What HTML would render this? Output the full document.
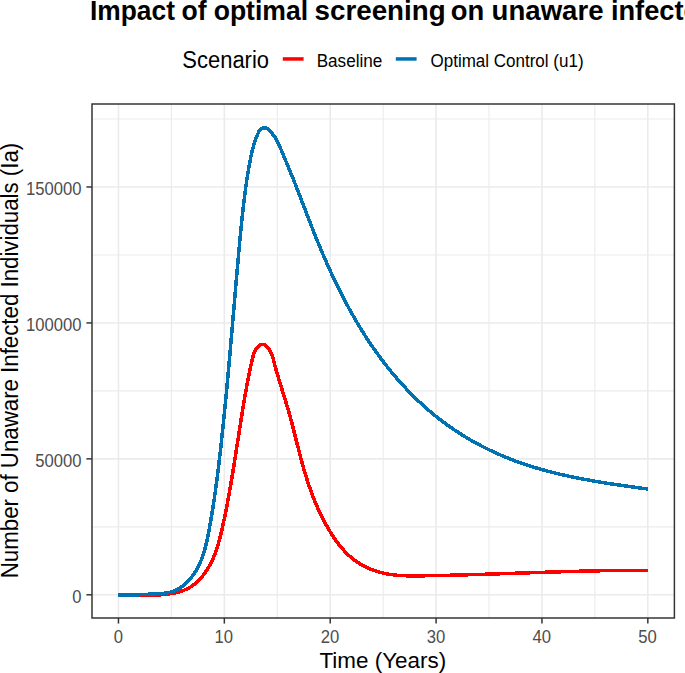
<!DOCTYPE html>
<html><head><meta charset="utf-8">
<style>
html,body{margin:0;padding:0;background:#fff;}
body{width:685px;height:673px;overflow:hidden;}
svg{display:block;}
text{font-family:"Liberation Sans",sans-serif;fill:#000;}
.ax{fill:#4D4D4D;}
</style></head><body>
<svg width="685" height="673" viewBox="0 0 685 673">
<rect width="685" height="673" fill="#fff"/>
<text x="90.04" y="19.9" font-size="27.5" font-weight="bold" textLength="84.88" lengthAdjust="spacingAndGlyphs">Impact</text>
<text x="181.56" y="19.9" font-size="27.5" font-weight="bold" textLength="25.09" lengthAdjust="spacingAndGlyphs">of</text>
<text x="213.66" y="19.9" font-size="27.5" font-weight="bold" textLength="94.42" lengthAdjust="spacingAndGlyphs">optimal</text>
<text x="314.62" y="19.9" font-size="27.5" font-weight="bold" textLength="131.03" lengthAdjust="spacingAndGlyphs">screening</text>
<text x="450.73" y="19.9" font-size="27.5" font-weight="bold" textLength="33.47" lengthAdjust="spacingAndGlyphs">on</text>
<text x="491.59" y="19.9" font-size="27.5" font-weight="bold" textLength="111.95" lengthAdjust="spacingAndGlyphs">unaware</text>
<text x="610.90" y="19.9" font-size="27.5" font-weight="bold" textLength="254.14" lengthAdjust="spacingAndGlyphs">infected individuals</text>
<text x="182.30" y="67.6" font-size="23.0" textLength="86.72" lengthAdjust="spacingAndGlyphs">Scenario</text>
<rect x="282.8" y="57.2" width="20.8" height="3.5" fill="#FF0000"/>
<text x="316.70" y="66.9" font-size="18.3" textLength="65.66" lengthAdjust="spacingAndGlyphs">Baseline</text>
<rect x="395.8" y="57.2" width="20.8" height="3.5" fill="#0072B2"/>
<text x="430.49" y="66.8" font-size="18.3" textLength="153.06" lengthAdjust="spacingAndGlyphs">Optimal Control (u1)</text>
<line x1="171.41" y1="104.0" x2="171.41" y2="618.0" stroke="#EBEBEB" stroke-width="1.1"/>
<line x1="277.27" y1="104.0" x2="277.27" y2="618.0" stroke="#EBEBEB" stroke-width="1.1"/>
<line x1="383.14" y1="104.0" x2="383.14" y2="618.0" stroke="#EBEBEB" stroke-width="1.1"/>
<line x1="489.01" y1="104.0" x2="489.01" y2="618.0" stroke="#EBEBEB" stroke-width="1.1"/>
<line x1="594.88" y1="104.0" x2="594.88" y2="618.0" stroke="#EBEBEB" stroke-width="1.1"/>
<line x1="92.0" y1="526.83" x2="674.4" y2="526.83" stroke="#EBEBEB" stroke-width="1.1"/>
<line x1="92.0" y1="390.90" x2="674.4" y2="390.90" stroke="#EBEBEB" stroke-width="1.1"/>
<line x1="92.0" y1="254.96" x2="674.4" y2="254.96" stroke="#EBEBEB" stroke-width="1.1"/>
<line x1="92.0" y1="119.03" x2="674.4" y2="119.03" stroke="#EBEBEB" stroke-width="1.1"/>
<line x1="118.47" y1="104.0" x2="118.47" y2="618.0" stroke="#EBEBEB" stroke-width="1.6"/>
<line x1="224.34" y1="104.0" x2="224.34" y2="618.0" stroke="#EBEBEB" stroke-width="1.6"/>
<line x1="330.21" y1="104.0" x2="330.21" y2="618.0" stroke="#EBEBEB" stroke-width="1.6"/>
<line x1="436.08" y1="104.0" x2="436.08" y2="618.0" stroke="#EBEBEB" stroke-width="1.6"/>
<line x1="541.95" y1="104.0" x2="541.95" y2="618.0" stroke="#EBEBEB" stroke-width="1.6"/>
<line x1="647.82" y1="104.0" x2="647.82" y2="618.0" stroke="#EBEBEB" stroke-width="1.6"/>
<line x1="92.0" y1="594.80" x2="674.4" y2="594.80" stroke="#EBEBEB" stroke-width="1.6"/>
<line x1="92.0" y1="458.86" x2="674.4" y2="458.86" stroke="#EBEBEB" stroke-width="1.6"/>
<line x1="92.0" y1="322.93" x2="674.4" y2="322.93" stroke="#EBEBEB" stroke-width="1.6"/>
<line x1="92.0" y1="186.99" x2="674.4" y2="186.99" stroke="#EBEBEB" stroke-width="1.6"/>
<path d="M118.47,595.00 L119.46,595.00 L120.44,595.00 L121.41,595.00 L122.37,595.00 L123.34,595.00 L124.31,595.00 L125.28,595.00 L126.25,595.00 L127.21,595.00 L128.18,595.00 L129.14,595.00 L130.11,595.00 L131.07,595.00 L132.04,594.95 L133.00,594.96 L133.96,594.98 L134.93,595.00 L135.89,595.01 L136.85,595.03 L137.81,595.05 L138.77,595.07 L139.74,595.08 L140.70,595.10 L141.66,595.11 L142.62,595.13 L143.58,595.14 L144.54,595.15 L145.50,595.16 L146.46,595.17 L147.43,595.17 L148.39,595.17 L149.35,595.17 L150.31,595.16 L151.27,595.15 L152.23,595.13 L153.20,595.11 L154.16,595.09 L155.12,595.06 L156.08,595.03 L157.05,594.99 L158.01,594.94 L158.98,594.89 L159.94,594.84 L160.91,594.77 L161.87,594.70 L162.84,594.62 L163.80,594.54 L164.77,594.45 L165.74,594.34 L166.71,594.24 L167.68,594.12 L168.65,593.99 L169.62,593.85 L170.58,593.71 L171.55,593.55 L172.52,593.38 L173.48,593.20 L174.44,593.01 L175.39,592.81 L176.35,592.59 L177.29,592.36 L178.23,592.12 L179.17,591.86 L180.10,591.58 L181.02,591.29 L181.94,590.98 L182.85,590.66 L183.75,590.32 L184.64,589.96 L185.52,589.58 L186.39,589.19 L187.25,588.77 L188.10,588.34 L188.94,587.88 L189.76,587.41 L190.58,586.91 L191.38,586.40 L192.17,585.87 L192.95,585.32 L193.71,584.75 L194.47,584.16 L195.21,583.56 L195.94,582.94 L196.66,582.31 L197.37,581.66 L198.06,580.99 L198.75,580.32 L199.42,579.63 L200.08,578.92 L200.73,578.21 L201.37,577.48 L202.00,576.74 L202.62,575.99 L203.22,575.23 L203.81,574.46 L204.40,573.68 L204.97,572.89 L205.53,572.09 L206.07,571.29 L206.61,570.48 L207.14,569.66 L207.65,568.84 L208.15,568.01 L208.65,567.17 L209.13,566.33 L209.60,565.49 L210.06,564.64 L210.51,563.79 L210.95,562.93 L211.38,562.07 L211.80,561.21 L212.21,560.34 L212.61,559.47 L213.00,558.59 L213.38,557.71 L213.76,556.83 L214.12,555.94 L214.48,555.05 L214.83,554.16 L215.17,553.27 L215.51,552.37 L215.83,551.46 L216.15,550.56 L216.47,549.65 L216.77,548.74 L217.07,547.83 L217.36,546.91 L217.65,546.00 L217.93,545.08 L218.21,544.15 L218.48,543.23 L218.74,542.30 L219.00,541.38 L219.26,540.45 L219.51,539.52 L219.75,538.58 L220.00,537.65 L220.24,536.71 L220.47,535.77 L220.70,534.84 L220.93,533.90 L221.15,532.96 L221.37,532.02 L221.59,531.07 L221.81,530.13 L222.03,529.19 L222.24,528.24 L222.45,527.30 L222.66,526.35 L222.87,525.41 L223.07,524.46 L223.28,523.52 L223.48,522.57 L223.69,521.63 L223.89,520.68 L224.09,519.73 L224.29,518.79 L224.48,517.84 L224.68,516.89 L224.88,515.94 L225.07,515.00 L225.26,514.05 L225.45,513.10 L225.64,512.15 L225.83,511.20 L226.02,510.26 L226.21,509.31 L226.40,508.36 L226.58,507.41 L226.77,506.46 L226.95,505.51 L227.13,504.56 L227.31,503.61 L227.49,502.66 L227.67,501.71 L227.85,500.76 L228.03,499.81 L228.20,498.86 L228.38,497.91 L228.55,496.96 L228.73,496.01 L228.90,495.05 L229.07,494.10 L229.24,493.15 L229.41,492.20 L229.58,491.25 L229.75,490.30 L229.92,489.34 L230.08,488.39 L230.25,487.44 L230.41,486.49 L230.58,485.53 L230.74,484.58 L230.91,483.63 L231.07,482.68 L231.23,481.72 L231.39,480.77 L231.55,479.82 L231.71,478.86 L231.87,477.91 L232.03,476.96 L232.19,476.00 L232.35,475.05 L232.51,474.10 L232.66,473.14 L232.82,472.19 L232.97,471.24 L233.13,470.28 L233.29,469.33 L233.44,468.37 L233.59,467.42 L233.75,466.47 L233.90,465.51 L234.05,464.56 L234.20,463.60 L234.36,462.65 L234.51,461.70 L234.66,460.74 L234.81,459.79 L234.96,458.83 L235.11,457.88 L235.26,456.92 L235.41,455.97 L235.56,455.02 L235.71,454.06 L235.86,453.11 L236.01,452.15 L236.16,451.20 L236.31,450.24 L236.45,449.29 L236.60,448.34 L236.75,447.38 L236.90,446.43 L237.05,445.47 L237.20,444.52 L237.34,443.57 L237.49,442.61 L237.64,441.66 L237.79,440.70 L237.93,439.75 L238.08,438.80 L238.23,437.84 L238.38,436.89 L238.53,435.93 L238.67,434.98 L238.82,434.03 L238.97,433.07 L239.12,432.12 L239.27,431.17 L239.42,430.21 L239.56,429.26 L239.71,428.31 L239.86,427.36 L240.01,426.40 L240.16,425.45 L240.31,424.50 L240.46,423.55 L240.61,422.59 L240.76,421.64 L240.91,420.69 L241.07,419.74 L241.22,418.78 L241.37,417.83 L241.52,416.88 L241.67,415.93 L241.83,414.98 L241.98,414.03 L242.13,413.08 L242.29,412.12 L242.44,411.17 L242.60,410.22 L242.75,409.27 L242.91,408.32 L243.07,407.37 L243.22,406.42 L243.38,405.47 L243.54,404.52 L243.70,403.57 L243.86,402.62 L244.02,401.67 L244.18,400.73 L244.34,399.78 L244.50,398.83 L244.66,397.88 L244.83,396.93 L244.99,395.98 L245.16,395.04 L245.32,394.09 L245.49,393.14 L245.66,392.19 L245.82,391.25 L245.99,390.30 L246.16,389.35 L246.33,388.41 L246.50,387.46 L246.67,386.52 L246.85,385.57 L247.02,384.63 L247.19,383.68 L247.37,382.74 L247.54,381.79 L247.72,380.85 L247.90,379.90 L248.08,378.96 L248.26,378.01 L248.44,377.07 L248.63,376.13 L248.82,375.18 L249.00,374.24 L249.19,373.29 L249.39,372.35 L249.58,371.40 L249.78,370.46 L249.98,369.51 L250.18,368.57 L250.39,367.62 L250.59,366.67 L250.80,365.73 L251.02,364.78 L251.24,363.83 L251.46,362.88 L251.68,361.93 L251.91,360.98 L252.14,360.03 L252.37,359.08 L252.61,358.13 L252.86,357.17 L253.11,356.22 L253.37,355.27 L253.66,354.33 L253.97,353.39 L254.32,352.47 L254.71,351.56 L255.14,350.67 L255.62,349.80 L256.16,348.95 L256.76,348.12 L257.42,347.33 L258.14,346.60 L258.89,345.95 L259.68,345.39 L260.49,344.94 L261.31,344.62 L262.14,344.46 L262.97,344.46 L263.78,344.63 L264.58,344.94 L265.36,345.39 L266.11,345.95 L266.83,346.59 L267.52,347.30 L268.16,348.06 L268.76,348.84 L269.31,349.65 L269.83,350.48 L270.30,351.34 L270.74,352.21 L271.15,353.10 L271.54,354.01 L271.89,354.93 L272.23,355.86 L272.54,356.80 L272.84,357.75 L273.12,358.71 L273.39,359.68 L273.65,360.64 L273.91,361.61 L274.16,362.58 L274.42,363.55 L274.67,364.51 L274.93,365.48 L275.19,366.44 L275.45,367.39 L275.72,368.35 L275.98,369.30 L276.25,370.25 L276.52,371.20 L276.79,372.14 L277.06,373.09 L277.33,374.03 L277.61,374.97 L277.88,375.90 L278.16,376.84 L278.44,377.77 L278.71,378.71 L278.99,379.64 L279.27,380.57 L279.55,381.49 L279.84,382.42 L280.12,383.34 L280.40,384.27 L280.68,385.19 L280.97,386.11 L281.25,387.03 L281.53,387.95 L281.82,388.87 L282.10,389.79 L282.39,390.71 L282.67,391.62 L282.95,392.54 L283.24,393.45 L283.52,394.37 L283.81,395.28 L284.09,396.20 L284.37,397.11 L284.65,398.03 L284.93,398.94 L285.21,399.85 L285.49,400.77 L285.77,401.68 L286.05,402.59 L286.33,403.51 L286.60,404.42 L286.88,405.34 L287.15,406.25 L287.42,407.17 L287.69,408.09 L287.96,409.00 L288.23,409.92 L288.50,410.84 L288.76,411.76 L289.02,412.68 L289.28,413.61 L289.54,414.53 L289.80,415.45 L290.06,416.38 L290.31,417.30 L290.56,418.23 L290.81,419.16 L291.06,420.09 L291.31,421.02 L291.56,421.95 L291.81,422.88 L292.05,423.81 L292.30,424.74 L292.54,425.68 L292.78,426.61 L293.02,427.54 L293.26,428.48 L293.50,429.41 L293.74,430.35 L293.98,431.29 L294.22,432.22 L294.46,433.16 L294.69,434.10 L294.93,435.04 L295.17,435.98 L295.40,436.91 L295.64,437.85 L295.87,438.79 L296.11,439.73 L296.35,440.67 L296.58,441.61 L296.82,442.55 L297.06,443.49 L297.29,444.43 L297.53,445.37 L297.77,446.31 L298.01,447.25 L298.24,448.19 L298.48,449.14 L298.72,450.08 L298.96,451.02 L299.21,451.96 L299.45,452.89 L299.69,453.83 L299.94,454.77 L300.18,455.71 L300.43,456.65 L300.67,457.59 L300.92,458.53 L301.17,459.46 L301.42,460.40 L301.68,461.34 L301.93,462.27 L302.19,463.21 L302.45,464.14 L302.70,465.08 L302.97,466.01 L303.23,466.95 L303.49,467.88 L303.76,468.81 L304.03,469.74 L304.30,470.67 L304.57,471.60 L304.85,472.53 L305.13,473.46 L305.40,474.38 L305.69,475.31 L305.97,476.23 L306.26,477.16 L306.55,478.08 L306.84,479.00 L307.13,479.92 L307.43,480.84 L307.73,481.76 L308.03,482.68 L308.34,483.60 L308.64,484.51 L308.95,485.43 L309.27,486.34 L309.58,487.25 L309.90,488.17 L310.22,489.08 L310.54,489.98 L310.87,490.89 L311.20,491.80 L311.53,492.70 L311.87,493.61 L312.21,494.51 L312.55,495.41 L312.90,496.31 L313.25,497.21 L313.60,498.10 L313.95,499.00 L314.31,499.89 L314.67,500.79 L315.04,501.68 L315.41,502.57 L315.78,503.46 L316.15,504.34 L316.53,505.23 L316.91,506.11 L317.30,506.99 L317.69,507.87 L318.08,508.75 L318.48,509.63 L318.88,510.50 L319.28,511.37 L319.69,512.25 L320.10,513.12 L320.51,513.98 L320.93,514.85 L321.36,515.71 L321.78,516.58 L322.21,517.44 L322.65,518.30 L323.09,519.15 L323.53,520.01 L323.98,520.86 L324.43,521.71 L324.89,522.56 L325.35,523.41 L325.81,524.25 L326.28,525.10 L326.75,525.94 L327.23,526.78 L327.71,527.61 L328.19,528.45 L328.68,529.28 L329.18,530.11 L329.68,530.94 L330.18,531.77 L330.69,532.59 L331.20,533.41 L331.72,534.23 L332.24,535.04 L332.77,535.86 L333.30,536.67 L333.84,537.47 L334.39,538.27 L334.94,539.07 L335.49,539.86 L336.05,540.65 L336.62,541.44 L337.19,542.22 L337.77,542.99 L338.35,543.76 L338.95,544.52 L339.54,545.28 L340.15,546.03 L340.76,546.78 L341.38,547.52 L342.00,548.25 L342.63,548.98 L343.27,549.70 L343.91,550.41 L344.57,551.12 L345.23,551.82 L345.90,552.51 L346.57,553.19 L347.25,553.86 L347.94,554.53 L348.64,555.19 L349.35,555.84 L350.06,556.47 L350.79,557.10 L351.52,557.73 L352.26,558.34 L353.01,558.94 L353.77,559.53 L354.53,560.11 L355.31,560.68 L356.09,561.24 L356.88,561.79 L357.69,562.33 L358.50,562.86 L359.32,563.37 L360.14,563.88 L360.98,564.38 L361.82,564.86 L362.67,565.33 L363.52,565.80 L364.38,566.25 L365.25,566.69 L366.13,567.12 L367.01,567.54 L367.89,567.94 L368.78,568.34 L369.68,568.73 L370.58,569.10 L371.48,569.46 L372.39,569.82 L373.31,570.16 L374.22,570.49 L375.14,570.81 L376.07,571.11 L376.99,571.41 L377.92,571.70 L378.85,571.97 L379.79,572.23 L380.72,572.48 L381.66,572.72 L382.60,572.95 L383.54,573.17 L384.48,573.38 L385.42,573.58 L386.36,573.76 L387.31,573.94 L388.25,574.11 L389.20,574.26 L390.15,574.41 L391.10,574.55 L392.05,574.68 L393.00,574.81 L393.95,574.92 L394.90,575.03 L395.86,575.13 L396.81,575.22 L397.77,575.30 L398.73,575.38 L399.68,575.45 L400.64,575.51 L401.60,575.57 L402.56,575.62 L403.52,575.67 L404.48,575.71 L405.45,575.75 L406.41,575.78 L407.37,575.80 L408.33,575.83 L409.30,575.84 L410.26,575.86 L411.23,575.87 L412.19,575.87 L413.16,575.88 L414.12,575.88 L415.09,575.88 L416.06,575.87 L417.02,575.87 L417.99,575.86 L418.96,575.85 L419.92,575.84 L420.89,575.82 L421.86,575.81 L422.82,575.79 L423.79,575.78 L424.76,575.76 L425.72,575.75 L426.69,575.73 L427.66,575.72 L428.63,575.70 L429.59,575.68 L430.56,575.67 L431.53,575.65 L432.49,575.63 L433.46,575.61 L434.43,575.59 L435.39,575.58 L436.36,575.56 L437.32,575.54 L438.29,575.52 L439.26,575.50 L440.22,575.48 L441.19,575.45 L442.16,575.43 L443.12,575.41 L444.09,575.39 L445.06,575.37 L446.02,575.35 L446.99,575.32 L447.95,575.30 L448.92,575.28 L449.89,575.25 L450.85,575.23 L451.82,575.21 L452.78,575.18 L453.75,575.16 L454.72,575.13 L455.68,575.11 L456.65,575.08 L457.61,575.06 L458.58,575.03 L459.55,575.01 L460.51,574.98 L461.48,574.95 L462.44,574.93 L463.41,574.90 L464.37,574.87 L465.34,574.85 L466.31,574.82 L467.27,574.79 L468.24,574.76 L469.20,574.74 L470.17,574.71 L471.13,574.68 L472.10,574.65 L473.07,574.62 L474.03,574.59 L475.00,574.56 L475.96,574.53 L476.93,574.50 L477.89,574.48 L478.86,574.45 L479.82,574.42 L480.79,574.39 L481.75,574.36 L482.72,574.33 L483.68,574.29 L484.65,574.26 L485.62,574.23 L486.58,574.20 L487.55,574.17 L488.51,574.14 L489.48,574.11 L490.44,574.08 L491.41,574.05 L492.37,574.02 L493.34,573.98 L494.30,573.95 L495.27,573.92 L496.23,573.89 L497.20,573.86 L498.16,573.82 L499.13,573.79 L500.09,573.76 L501.06,573.73 L502.02,573.70 L502.99,573.66 L503.95,573.63 L504.92,573.60 L505.88,573.57 L506.85,573.53 L507.81,573.50 L508.78,573.47 L509.74,573.43 L510.71,573.40 L511.67,573.37 L512.64,573.34 L513.60,573.30 L514.57,573.27 L515.53,573.24 L516.50,573.21 L517.46,573.17 L518.43,573.14 L519.39,573.11 L520.36,573.07 L521.32,573.04 L522.29,573.01 L523.25,572.98 L524.22,572.94 L525.18,572.91 L526.15,572.88 L527.11,572.85 L528.08,572.81 L529.04,572.78 L530.01,572.75 L530.97,572.72 L531.94,572.68 L532.90,572.65 L533.87,572.62 L534.83,572.59 L535.80,572.55 L536.76,572.52 L537.73,572.49 L538.69,572.46 L539.66,572.43 L540.62,572.39 L541.58,572.36 L542.55,572.33 L543.51,572.30 L544.48,572.27 L545.44,572.24 L546.41,572.21 L547.37,572.18 L548.34,572.14 L549.30,572.11 L550.27,572.08 L551.23,572.05 L552.20,572.02 L553.16,571.99 L554.13,571.96 L555.09,571.93 L556.06,571.90 L557.02,571.87 L557.99,571.84 L558.95,571.81 L559.92,571.78 L560.88,571.76 L561.85,571.73 L562.81,571.70 L563.78,571.67 L564.74,571.64 L565.71,571.61 L566.67,571.59 L567.64,571.56 L568.60,571.53 L569.57,571.50 L570.53,571.48 L571.50,571.45 L572.46,571.42 L573.43,571.40 L574.39,571.37 L575.36,571.34 L576.32,571.32 L577.29,571.29 L578.25,571.27 L579.22,571.24 L580.18,571.22 L581.15,571.19 L582.11,571.17 L583.08,571.15 L584.05,571.12 L585.01,571.10 L585.98,571.07 L586.94,571.05 L587.91,571.03 L588.87,571.01 L589.84,570.99 L590.80,570.96 L591.77,570.94 L592.73,570.92 L593.70,570.90 L594.66,570.88 L595.63,570.86 L596.60,570.84 L597.56,570.82 L598.53,570.80 L599.49,570.78 L600.46,570.76 L601.42,570.74 L602.39,570.73 L603.35,570.71 L604.32,570.69 L605.29,570.67 L606.25,570.66 L607.22,570.64 L608.18,570.62 L609.15,570.61 L610.11,570.59 L611.08,570.58 L612.05,570.56 L613.01,570.55 L613.98,570.54 L614.94,570.52 L615.91,570.51 L616.88,570.50 L617.84,570.49 L618.81,570.47 L619.77,570.46 L620.74,570.45 L621.71,570.44 L622.67,570.43 L623.64,570.42 L624.60,570.41 L625.57,570.40 L626.54,570.40 L627.50,570.39 L628.47,570.38 L629.44,570.37 L630.40,570.37 L631.37,570.36 L632.33,570.35 L633.30,570.35 L634.27,570.34 L635.23,570.34 L636.20,570.34 L637.17,570.33 L638.13,570.33 L639.10,570.33 L640.07,570.33 L641.03,570.32 L642.00,570.32 L642.97,570.32 L643.93,570.32 L644.90,570.32 L645.87,570.32 L646.83,570.33 L647.80,570.33" fill="none" stroke="#FF0000" stroke-width="3.5" stroke-linejoin="round" shape-rendering="crispEdges"/>
<path d="M118.47,595.00 L119.75,595.00 L121.00,595.00 L122.25,595.00 L123.49,595.00 L124.73,595.00 L125.96,595.00 L127.19,595.00 L128.41,595.00 L129.63,595.00 L130.85,595.00 L132.07,595.03 L133.28,595.00 L134.50,594.96 L135.71,594.92 L136.92,594.87 L138.13,594.82 L139.34,594.76 L140.55,594.70 L141.77,594.64 L142.98,594.58 L144.20,594.51 L145.42,594.44 L146.64,594.37 L147.86,594.30 L149.09,594.23 L150.32,594.16 L151.56,594.09 L152.80,594.02 L154.05,593.94 L155.30,593.87 L156.56,593.80 L157.82,593.73 L159.09,593.66 L160.36,593.58 L161.62,593.48 L162.89,593.37 L164.15,593.24 L165.40,593.09 L166.64,592.91 L167.87,592.70 L169.09,592.46 L170.29,592.17 L171.48,591.85 L172.65,591.48 L173.79,591.07 L174.92,590.61 L176.03,590.12 L177.12,589.58 L178.19,589.01 L179.23,588.40 L180.26,587.76 L181.27,587.08 L182.26,586.37 L183.23,585.64 L184.18,584.87 L185.11,584.07 L186.01,583.25 L186.90,582.41 L187.76,581.54 L188.61,580.65 L189.43,579.74 L190.24,578.81 L191.02,577.86 L191.78,576.90 L192.51,575.92 L193.23,574.93 L193.93,573.93 L194.60,572.92 L195.25,571.89 L195.89,570.86 L196.50,569.81 L197.09,568.76 L197.67,567.69 L198.23,566.62 L198.76,565.53 L199.29,564.44 L199.79,563.34 L200.28,562.23 L200.75,561.11 L201.21,559.99 L201.65,558.86 L202.08,557.72 L202.49,556.57 L202.89,555.42 L203.28,554.26 L203.65,553.10 L204.01,551.92 L204.36,550.75 L204.70,549.57 L205.03,548.38 L205.35,547.19 L205.66,546.00 L205.96,544.80 L206.25,543.59 L206.53,542.39 L206.81,541.18 L207.08,539.97 L207.34,538.75 L207.60,537.54 L207.85,536.32 L208.09,535.10 L208.33,533.88 L208.57,532.66 L208.80,531.43 L209.03,530.21 L209.26,528.98 L209.48,527.76 L209.70,526.54 L209.92,525.31 L210.14,524.09 L210.36,522.87 L210.57,521.64 L210.78,520.42 L210.99,519.20 L211.20,517.98 L211.41,516.76 L211.61,515.53 L211.81,514.31 L212.01,513.09 L212.21,511.87 L212.41,510.65 L212.61,509.43 L212.80,508.21 L212.99,506.98 L213.18,505.76 L213.37,504.54 L213.56,503.32 L213.74,502.10 L213.93,500.88 L214.11,499.66 L214.29,498.44 L214.47,497.22 L214.65,496.00 L214.83,494.78 L215.00,493.56 L215.17,492.34 L215.35,491.12 L215.52,489.90 L215.69,488.69 L215.85,487.47 L216.02,486.25 L216.19,485.03 L216.35,483.81 L216.51,482.59 L216.68,481.37 L216.84,480.15 L217.00,478.93 L217.15,477.71 L217.31,476.50 L217.47,475.28 L217.62,474.06 L217.77,472.84 L217.93,471.62 L218.08,470.40 L218.23,469.18 L218.38,467.96 L218.53,466.74 L218.67,465.53 L218.82,464.31 L218.97,463.09 L219.11,461.87 L219.25,460.65 L219.40,459.43 L219.54,458.21 L219.68,456.99 L219.82,455.77 L219.96,454.55 L220.10,453.33 L220.24,452.11 L220.38,450.90 L220.51,449.68 L220.65,448.46 L220.79,447.24 L220.92,446.02 L221.06,444.80 L221.19,443.58 L221.32,442.36 L221.46,441.14 L221.59,439.92 L221.72,438.70 L221.85,437.47 L221.98,436.25 L222.11,435.03 L222.24,433.81 L222.37,432.59 L222.50,431.37 L222.63,430.15 L222.76,428.93 L222.88,427.71 L223.01,426.48 L223.14,425.26 L223.26,424.04 L223.39,422.82 L223.52,421.60 L223.64,420.37 L223.76,419.15 L223.89,417.93 L224.01,416.71 L224.14,415.48 L224.26,414.26 L224.38,413.04 L224.50,411.82 L224.62,410.59 L224.75,409.37 L224.87,408.15 L224.99,406.92 L225.11,405.70 L225.23,404.48 L225.35,403.25 L225.46,402.03 L225.58,400.81 L225.70,399.58 L225.82,398.36 L225.94,397.13 L226.05,395.91 L226.17,394.69 L226.29,393.46 L226.40,392.24 L226.52,391.01 L226.64,389.79 L226.75,388.56 L226.87,387.34 L226.98,386.11 L227.09,384.89 L227.21,383.66 L227.32,382.44 L227.44,381.22 L227.55,379.99 L227.66,378.76 L227.78,377.54 L227.89,376.31 L228.00,375.09 L228.11,373.86 L228.22,372.64 L228.34,371.41 L228.45,370.19 L228.56,368.96 L228.67,367.74 L228.78,366.51 L228.89,365.28 L229.00,364.06 L229.11,362.83 L229.22,361.61 L229.33,360.38 L229.44,359.15 L229.55,357.93 L229.66,356.70 L229.76,355.48 L229.87,354.25 L229.98,353.02 L230.09,351.80 L230.20,350.57 L230.31,349.34 L230.41,348.12 L230.52,346.89 L230.63,345.66 L230.74,344.44 L230.84,343.21 L230.95,341.98 L231.06,340.76 L231.16,339.53 L231.27,338.30 L231.38,337.08 L231.48,335.85 L231.59,334.62 L231.70,333.39 L231.80,332.17 L231.91,330.94 L232.02,329.71 L232.12,328.49 L232.23,327.26 L232.33,326.03 L232.44,324.80 L232.55,323.58 L232.65,322.35 L232.76,321.12 L232.86,319.89 L232.97,318.67 L233.07,317.44 L233.18,316.21 L233.28,314.98 L233.39,313.76 L233.50,312.53 L233.60,311.30 L233.71,310.07 L233.81,308.85 L233.92,307.62 L234.02,306.39 L234.13,305.16 L234.23,303.94 L234.34,302.71 L234.45,301.48 L234.55,300.25 L234.66,299.03 L234.76,297.80 L234.87,296.57 L234.97,295.34 L235.08,294.11 L235.19,292.89 L235.29,291.66 L235.40,290.43 L235.50,289.20 L235.61,287.98 L235.72,286.75 L235.82,285.52 L235.93,284.29 L236.04,283.07 L236.14,281.84 L236.25,280.61 L236.36,279.38 L236.46,278.15 L236.57,276.93 L236.68,275.70 L236.79,274.47 L236.89,273.24 L237.00,272.02 L237.11,270.79 L237.22,269.56 L237.33,268.33 L237.43,267.11 L237.54,265.88 L237.65,264.65 L237.76,263.42 L237.87,262.20 L237.98,260.97 L238.09,259.74 L238.20,258.51 L238.31,257.29 L238.42,256.06 L238.53,254.83 L238.64,253.60 L238.75,252.38 L238.86,251.15 L238.97,249.92 L239.08,248.69 L239.19,247.47 L239.31,246.24 L239.42,245.01 L239.53,243.79 L239.64,242.56 L239.76,241.33 L239.87,240.11 L239.98,238.88 L240.10,237.65 L240.21,236.43 L240.33,235.20 L240.45,233.97 L240.56,232.75 L240.68,231.52 L240.80,230.29 L240.92,229.07 L241.04,227.84 L241.16,226.62 L241.28,225.39 L241.41,224.17 L241.53,222.94 L241.65,221.72 L241.78,220.49 L241.91,219.27 L242.04,218.05 L242.17,216.82 L242.30,215.60 L242.43,214.38 L242.56,213.15 L242.70,211.93 L242.83,210.71 L242.97,209.49 L243.11,208.26 L243.25,207.04 L243.39,205.82 L243.53,204.60 L243.68,203.38 L243.82,202.16 L243.97,200.94 L244.12,199.72 L244.27,198.50 L244.43,197.28 L244.58,196.07 L244.74,194.85 L244.90,193.63 L245.06,192.41 L245.22,191.20 L245.39,189.98 L245.55,188.77 L245.72,187.55 L245.89,186.34 L246.07,185.12 L246.24,183.91 L246.42,182.69 L246.60,181.48 L246.78,180.27 L246.97,179.06 L247.15,177.85 L247.34,176.64 L247.54,175.43 L247.73,174.22 L247.93,173.01 L248.13,171.80 L248.33,170.59 L248.53,169.38 L248.74,168.18 L248.95,166.97 L249.16,165.77 L249.38,164.56 L249.60,163.36 L249.82,162.15 L250.05,160.95 L250.28,159.75 L250.51,158.55 L250.75,157.35 L251.00,156.15 L251.26,154.95 L251.52,153.75 L251.79,152.56 L252.07,151.36 L252.36,150.17 L252.67,148.98 L252.98,147.79 L253.31,146.60 L253.65,145.41 L254.00,144.22 L254.37,143.04 L254.76,141.86 L255.16,140.68 L255.58,139.50 L256.01,138.32 L256.47,137.14 L256.94,135.97 L257.43,134.80 L257.95,133.63 L258.48,132.47 L259.05,131.31 L259.68,130.24 L260.42,129.31 L261.33,128.63 L262.44,128.24 L263.70,128.11 L264.99,128.10 L266.24,128.21 L267.39,128.55 L268.40,129.16 L269.31,129.98 L270.14,130.94 L270.93,131.95 L271.71,132.94 L272.48,133.93 L273.24,134.90 L273.97,135.88 L274.68,136.87 L275.35,137.87 L276.00,138.90 L276.61,139.95 L277.20,141.02 L277.76,142.11 L278.30,143.21 L278.82,144.33 L279.32,145.46 L279.82,146.60 L280.30,147.74 L280.77,148.89 L281.25,150.03 L281.72,151.18 L282.19,152.33 L282.66,153.47 L283.14,154.62 L283.61,155.76 L284.09,156.90 L284.56,158.04 L285.04,159.18 L285.51,160.32 L285.99,161.46 L286.46,162.59 L286.94,163.73 L287.41,164.87 L287.88,166.00 L288.35,167.14 L288.83,168.27 L289.30,169.41 L289.77,170.54 L290.24,171.68 L290.70,172.82 L291.17,173.95 L291.63,175.09 L292.10,176.23 L292.56,177.37 L293.02,178.50 L293.47,179.64 L293.93,180.78 L294.39,181.93 L294.84,183.07 L295.29,184.21 L295.74,185.35 L296.19,186.50 L296.64,187.64 L297.09,188.78 L297.54,189.93 L297.98,191.07 L298.43,192.22 L298.87,193.36 L299.31,194.51 L299.76,195.66 L300.20,196.80 L300.64,197.95 L301.08,199.10 L301.52,200.25 L301.96,201.39 L302.40,202.54 L302.84,203.69 L303.28,204.84 L303.72,205.99 L304.15,207.13 L304.59,208.28 L305.03,209.43 L305.47,210.58 L305.91,211.73 L306.35,212.88 L306.79,214.03 L307.23,215.18 L307.67,216.32 L308.11,217.47 L308.55,218.62 L309.00,219.77 L309.44,220.92 L309.88,222.07 L310.33,223.21 L310.77,224.36 L311.22,225.51 L311.67,226.65 L312.12,227.80 L312.57,228.95 L313.02,230.09 L313.47,231.24 L313.93,232.38 L314.38,233.53 L314.84,234.67 L315.30,235.81 L315.76,236.96 L316.22,238.10 L316.68,239.24 L317.14,240.38 L317.61,241.53 L318.08,242.67 L318.54,243.81 L319.01,244.94 L319.49,246.08 L319.96,247.22 L320.43,248.36 L320.91,249.50 L321.39,250.63 L321.87,251.77 L322.35,252.90 L322.83,254.04 L323.32,255.17 L323.81,256.30 L324.29,257.43 L324.78,258.57 L325.28,259.70 L325.77,260.82 L326.27,261.95 L326.76,263.08 L327.26,264.21 L327.77,265.33 L328.27,266.46 L328.77,267.58 L329.28,268.71 L329.79,269.83 L330.30,270.95 L330.81,272.07 L331.33,273.19 L331.85,274.31 L332.37,275.43 L332.89,276.54 L333.41,277.66 L333.94,278.77 L334.46,279.89 L334.99,281.00 L335.53,282.11 L336.06,283.22 L336.60,284.33 L337.13,285.43 L337.67,286.54 L338.22,287.65 L338.76,288.75 L339.31,289.85 L339.86,290.95 L340.41,292.05 L340.97,293.15 L341.52,294.25 L342.08,295.35 L342.64,296.44 L343.21,297.54 L343.77,298.63 L344.34,299.72 L344.91,300.81 L345.49,301.90 L346.06,302.98 L346.64,304.07 L347.22,305.15 L347.81,306.24 L348.39,307.32 L348.98,308.40 L349.57,309.47 L350.17,310.55 L350.76,311.63 L351.36,312.70 L351.96,313.77 L352.57,314.84 L353.18,315.91 L353.79,316.98 L354.40,318.04 L355.01,319.11 L355.63,320.17 L356.25,321.23 L356.88,322.29 L357.50,323.34 L358.13,324.40 L358.77,325.45 L359.40,326.50 L360.04,327.55 L360.68,328.60 L361.32,329.65 L361.97,330.69 L362.62,331.73 L363.27,332.78 L363.93,333.81 L364.59,334.85 L365.25,335.89 L365.92,336.92 L366.58,337.95 L367.25,338.98 L367.93,340.01 L368.61,341.03 L369.29,342.06 L369.97,343.08 L370.66,344.10 L371.35,345.11 L372.04,346.13 L372.74,347.14 L373.44,348.15 L374.14,349.16 L374.85,350.17 L375.56,351.17 L376.27,352.17 L376.99,353.17 L377.71,354.17 L378.43,355.17 L379.15,356.16 L379.88,357.15 L380.62,358.14 L381.35,359.13 L382.09,360.11 L382.84,361.09 L383.58,362.07 L384.33,363.05 L385.09,364.02 L385.84,365.00 L386.60,365.96 L387.37,366.93 L388.13,367.90 L388.90,368.86 L389.68,369.82 L390.45,370.77 L391.23,371.72 L392.02,372.68 L392.81,373.62 L393.60,374.57 L394.39,375.51 L395.19,376.45 L395.99,377.39 L396.79,378.32 L397.60,379.25 L398.41,380.18 L399.22,381.10 L400.04,382.02 L400.86,382.94 L401.69,383.85 L402.52,384.77 L403.35,385.67 L404.18,386.58 L405.02,387.48 L405.86,388.38 L406.71,389.28 L407.56,390.17 L408.41,391.06 L409.26,391.94 L410.12,392.83 L410.98,393.70 L411.85,394.58 L412.72,395.45 L413.59,396.32 L414.47,397.18 L415.35,398.04 L416.23,398.90 L417.12,399.75 L418.01,400.60 L418.90,401.45 L419.80,402.29 L420.70,403.13 L421.60,403.97 L422.51,404.80 L423.42,405.62 L424.33,406.45 L425.25,407.27 L426.17,408.08 L427.10,408.89 L428.02,409.70 L428.96,410.50 L429.89,411.30 L430.83,412.10 L431.77,412.89 L432.72,413.67 L433.67,414.45 L434.62,415.23 L435.57,416.01 L436.53,416.78 L437.50,417.54 L438.46,418.30 L439.43,419.06 L440.41,419.81 L441.38,420.56 L442.36,421.30 L443.35,422.04 L444.33,422.77 L445.32,423.50 L446.32,424.23 L447.31,424.95 L448.31,425.67 L449.32,426.38 L450.32,427.09 L451.33,427.79 L452.35,428.49 L453.36,429.18 L454.38,429.87 L455.40,430.56 L456.43,431.24 L457.46,431.91 L458.49,432.58 L459.52,433.25 L460.56,433.91 L461.60,434.57 L462.64,435.23 L463.69,435.87 L464.74,436.52 L465.79,437.16 L466.84,437.79 L467.90,438.42 L468.96,439.05 L470.02,439.67 L471.09,440.29 L472.16,440.90 L473.23,441.50 L474.30,442.11 L475.38,442.70 L476.45,443.30 L477.54,443.89 L478.62,444.47 L479.70,445.05 L480.79,445.62 L481.88,446.19 L482.98,446.76 L484.07,447.32 L485.17,447.87 L486.27,448.42 L487.37,448.97 L488.47,449.51 L489.58,450.04 L490.69,450.58 L491.80,451.10 L492.91,451.62 L494.03,452.14 L495.15,452.65 L496.27,453.16 L497.39,453.66 L498.51,454.16 L499.64,454.65 L500.76,455.14 L501.89,455.63 L503.03,456.10 L504.16,456.58 L505.29,457.05 L506.43,457.51 L507.57,457.97 L508.71,458.42 L509.85,458.87 L511.00,459.32 L512.14,459.76 L513.29,460.19 L514.44,460.62 L515.59,461.05 L516.74,461.47 L517.90,461.89 L519.05,462.30 L520.21,462.71 L521.37,463.12 L522.53,463.52 L523.69,463.91 L524.85,464.30 L526.02,464.69 L527.19,465.08 L528.35,465.45 L529.52,465.83 L530.69,466.20 L531.87,466.57 L533.04,466.93 L534.21,467.29 L535.39,467.65 L536.57,468.00 L537.75,468.35 L538.93,468.69 L540.11,469.03 L541.29,469.37 L542.47,469.70 L543.66,470.03 L544.85,470.35 L546.03,470.68 L547.22,471.00 L548.41,471.31 L549.60,471.62 L550.79,471.93 L551.99,472.24 L553.18,472.54 L554.37,472.84 L555.57,473.13 L556.77,473.42 L557.96,473.71 L559.16,474.00 L560.36,474.28 L561.56,474.56 L562.76,474.84 L563.97,475.11 L565.17,475.38 L566.37,475.65 L567.58,475.92 L568.78,476.18 L569.99,476.44 L571.20,476.70 L572.40,476.95 L573.61,477.20 L574.82,477.45 L576.03,477.70 L577.24,477.94 L578.45,478.18 L579.66,478.42 L580.87,478.66 L582.08,478.89 L583.30,479.12 L584.51,479.35 L585.72,479.58 L586.94,479.80 L588.15,480.02 L589.37,480.24 L590.58,480.46 L591.80,480.68 L593.02,480.89 L594.23,481.11 L595.45,481.32 L596.67,481.52 L597.88,481.73 L599.10,481.93 L600.32,482.14 L601.54,482.34 L602.76,482.54 L603.97,482.73 L605.19,482.93 L606.41,483.12 L607.63,483.31 L608.85,483.51 L610.07,483.69 L611.29,483.88 L612.51,484.07 L613.73,484.25 L614.94,484.44 L616.16,484.62 L617.38,484.80 L618.60,484.98 L619.82,485.16 L621.04,485.34 L622.26,485.51 L623.48,485.69 L624.69,485.86 L625.91,486.03 L627.13,486.21 L628.35,486.38 L629.57,486.55 L630.78,486.72 L632.00,486.88 L633.22,487.05 L634.43,487.22 L635.65,487.38 L636.86,487.55 L638.08,487.71 L639.29,487.88 L640.51,488.04 L641.72,488.20 L642.93,488.37 L644.15,488.53 L645.36,488.69 L646.57,488.85 L647.78,489.01" fill="none" stroke="#0072B2" stroke-width="3.5" stroke-linejoin="round" shape-rendering="crispEdges"/>
<rect x="92.0" y="104.0" width="582.40" height="514.00" fill="none" stroke="#333333" stroke-width="1.48"/>
<line x1="118.47" y1="618.0" x2="118.47" y2="623.60" stroke="#333333" stroke-width="1.48"/>
<text x="113.64" y="642.90" font-size="18.5" textLength="9.26" lengthAdjust="spacingAndGlyphs" class="ax">0</text>
<line x1="224.34" y1="618.0" x2="224.34" y2="623.60" stroke="#333333" stroke-width="1.48"/>
<text x="214.57" y="642.90" font-size="18.5" textLength="18.52" lengthAdjust="spacingAndGlyphs" class="ax">10</text>
<line x1="330.21" y1="618.0" x2="330.21" y2="623.60" stroke="#333333" stroke-width="1.48"/>
<text x="320.66" y="642.90" font-size="18.5" textLength="18.52" lengthAdjust="spacingAndGlyphs" class="ax">20</text>
<line x1="436.08" y1="618.0" x2="436.08" y2="623.60" stroke="#333333" stroke-width="1.48"/>
<text x="426.63" y="642.90" font-size="18.5" textLength="18.52" lengthAdjust="spacingAndGlyphs" class="ax">30</text>
<line x1="541.95" y1="618.0" x2="541.95" y2="623.60" stroke="#333333" stroke-width="1.48"/>
<text x="532.62" y="642.90" font-size="18.5" textLength="18.52" lengthAdjust="spacingAndGlyphs" class="ax">40</text>
<line x1="647.82" y1="618.0" x2="647.82" y2="623.60" stroke="#333333" stroke-width="1.48"/>
<text x="638.35" y="642.90" font-size="18.5" textLength="18.52" lengthAdjust="spacingAndGlyphs" class="ax">50</text>
<line x1="86.40" y1="594.80" x2="92.0" y2="594.80" stroke="#333333" stroke-width="1.48"/>
<text x="72.19" y="602.80" font-size="18.5" textLength="9.26" lengthAdjust="spacingAndGlyphs" class="ax">0</text>
<line x1="86.40" y1="458.86" x2="92.0" y2="458.86" stroke="#333333" stroke-width="1.48"/>
<text x="35.15" y="466.86" font-size="18.5" textLength="46.30" lengthAdjust="spacingAndGlyphs" class="ax">50000</text>
<line x1="86.40" y1="322.93" x2="92.0" y2="322.93" stroke="#333333" stroke-width="1.48"/>
<text x="25.89" y="330.93" font-size="18.5" textLength="55.56" lengthAdjust="spacingAndGlyphs" class="ax">100000</text>
<line x1="86.40" y1="186.99" x2="92.0" y2="186.99" stroke="#333333" stroke-width="1.48"/>
<text x="25.89" y="194.99" font-size="18.5" textLength="55.56" lengthAdjust="spacingAndGlyphs" class="ax">150000</text>
<text x="319.51" y="667.8" font-size="22.8" textLength="126.65" lengthAdjust="spacingAndGlyphs">Time (Years)</text>
<text transform="rotate(-90)" x="-578.23" y="17.8" font-size="23.0" textLength="435.41" lengthAdjust="spacingAndGlyphs">Number of Unaware Infected Individuals (Ia)</text>
</svg>
</body></html>
